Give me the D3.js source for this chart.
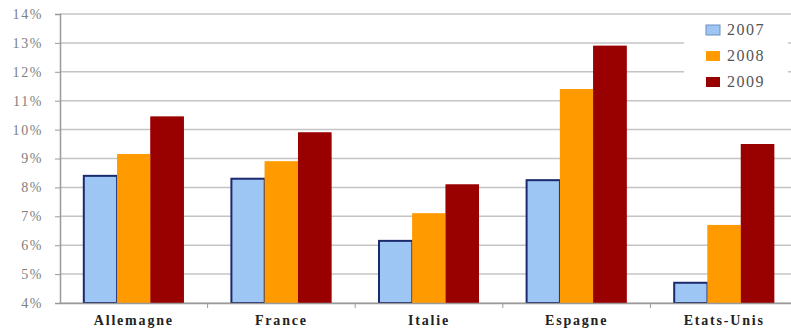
<!DOCTYPE html>
<html>
<head>
<meta charset="utf-8">
<script src="https://cdn.jsdelivr.net/npm/d3@7"></script>
<style>
  body { margin: 0; background: #fff; }
  text { font-family: "Liberation Serif", "DejaVu Serif", serif; }
</style>
</head>
<body>
<svg id="main" width="791" height="329"></svg>
<script>
var countries = ["Allemagne", "France", "Italie", "Espagne", "Etats-Unis"];
var years = ["2007", "2008", "2009"];
var v2007 = [8.4, 8.3, 6.15, 8.25, 4.7];
var v2008 = [9.15, 8.9, 7.1, 11.4, 6.7];
var v2009 = [10.45, 9.9, 8.1, 12.9, 9.5];
var yTicks = [4, 5, 6, 7, 8, 9, 10, 11, 12, 13, 14];
var colors = ["#9ec6f4", "#ff9a00", "#990000"];

var series = [v2007, v2008, v2009];
var svg = d3.select("#main");

var x = d3.scaleBand().domain(countries).range([60, 798]);
var xi = d3.scaleBand().domain(years).range([0, 100]);
var y = d3.scaleLinear().domain([4, 14]).range([303, 14]);

// grid
svg.append("g").selectAll("line").data(yTicks).join("line")
  .attr("x1", 60).attr("x2", 791)
  .attr("y1", d => y(d)).attr("y2", d => y(d))
  .attr("stroke", "#c4c4c4").attr("stroke-width", 1.5);

// y axis
var ya = svg.append("g").attr("transform", "translate(60,0)")
  .call(d3.axisLeft(y).tickValues(yTicks).tickSize(5).tickPadding(12).tickFormat(d => d + "%"));
ya.select(".domain").attr("stroke", "#9a9a9a").attr("stroke-width", 1.5);
ya.selectAll(".tick line").attr("stroke", "#9a9a9a");
ya.selectAll("text").attr("font-size", 14).attr("fill", "#808080")
  .attr("font-family", "Liberation Serif").attr("letter-spacing", 1.6);

// bars
var groups = svg.append("g").selectAll("g").data(countries).join("g")
  .attr("transform", d => "translate(" + (x(d) + x.bandwidth() / 2 - 50) + ",0)");
years.forEach(function(yr, k) {
  groups.append("rect")
    .attr("x", xi(yr))
    .attr("width", xi.bandwidth())
    .attr("y", (d, i) => y(series[k][i]))
    .attr("height", (d, i) => y(4) - y(series[k][i]))
    .attr("fill", colors[k])
    .attr("stroke", k === 0 ? "#1a2a6c" : "none")
    .attr("stroke-width", k === 0 ? 2 : 0);
});
// overdraw orange/red to cover right edge of blue outline
years.slice(1).forEach(function(yr, kk) {
  var k = kk + 1;
  groups.append("rect")
    .attr("x", xi(yr))
    .attr("width", xi.bandwidth())
    .attr("y", (d, i) => y(series[k][i]))
    .attr("height", (d, i) => y(4) - y(series[k][i]))
    .attr("fill", colors[k]);
});

// x axis
var xa = svg.append("g").attr("transform", "translate(0,303)")
  .call(d3.axisBottom(x).tickSize(0).tickPadding(12));
xa.select(".domain").attr("stroke", "#9a9a9a").attr("stroke-width", 1.5);
xa.selectAll("text").attr("font-size", 14).attr("font-weight", "bold").attr("fill", "#222")
  .attr("font-family", "Liberation Serif").attr("letter-spacing", 1.8);
// category separator ticks
svg.append("g").selectAll("line").data(countries.slice(1)).join("line")
  .attr("x1", d => x(d)).attr("x2", d => x(d))
  .attr("y1", 303).attr("y2", 308).attr("stroke", "#9a9a9a");

// legend
var lg = svg.append("g");
lg.append("rect").attr("x", 684).attr("y", 16).attr("width", 104).attr("height", 82).attr("fill", "#fff");
years.forEach(function(yr, k) {
  var row = lg.append("g").attr("transform", "translate(706," + [30, 56, 82][k] + ")");
  row.append("rect").attr("x", 0).attr("y", -5).attr("width", 14).attr("height", 10)
    .attr("fill", colors[k]).attr("stroke", k === 0 ? "#6d8fc0" : "none");
  row.append("text").attr("x", 21).attr("y", 5).attr("font-size", 16).attr("fill", "#555")
    .attr("letter-spacing", 1.5).text(yr);
});
</script>
</body>
</html>
